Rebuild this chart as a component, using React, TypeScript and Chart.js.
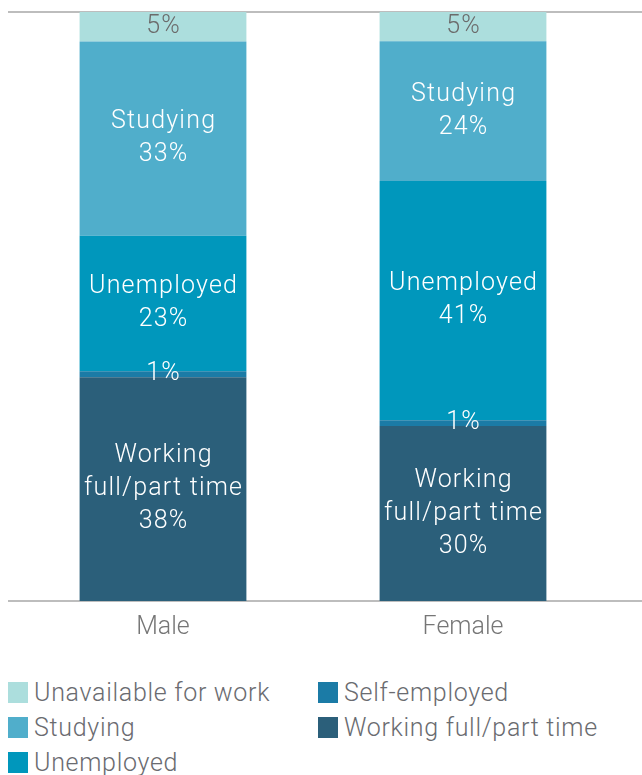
import React, { useEffect, useRef } from "react";
import { Chart, registerables } from "chart.js";

Chart.register(...registerables);

const categories = ["Male", "Female"];
const seriesNames = ["Working full/part time", "Self-employed", "Unemployed", "Studying", "Unavailable for work"];
const working = [38, 30];
const selfEmployed = [1, 1];
const unemployed = [23, 41];
const studying = [33, 24];
const unavailable = [5, 5];
const seriesValues = [working, selfEmployed, unemployed, studying, unavailable];
const seriesColors = ["#2b5f7a", "#1b7ba6", "#0097bc", "#50aecb", "#acdedd"];
const segmentTitles = ["Working\nfull/part time", "", "Unemployed", "Studying", ""];
const labelColors = ["#ffffff", "#ffffff", "#ffffff", "#ffffff", "#6b6b6b"];
const legendOrder = [4, 3, 2, 1, 0];

const FONT = "Roboto, 'Noto Sans', sans-serif";

const totals = categories.map((_, c) => seriesValues.reduce((s, arr) => s + arr[c], 0));

const linesPlugin = {
  id: "edgeLines",
  beforeDatasetsDraw(chart: any) {
    const { ctx } = chart;
    const y = chart.scales.y;
    ctx.save();
    ctx.strokeStyle = "#bdbdbd";
    ctx.lineWidth = 2;
    [0, 100].forEach((v) => {
      const py = Math.round(y.getPixelForValue(v));
      ctx.beginPath();
      ctx.moveTo(0, py);
      ctx.lineTo(chart.width, py);
      ctx.stroke();
    });
    ctx.restore();
  },
};

const labelPlugin = {
  id: "segLabels",
  afterDatasetsDraw(chart: any) {
    const { ctx } = chart;
    ctx.save();
    ctx.font = `300 25px ${FONT}`;
    (ctx as any).letterSpacing = "1.2px";
    ctx.textAlign = "center";
    ctx.textBaseline = "middle";
    const lh = 33;
    chart.data.datasets.forEach((ds: any, i: number) => {
      const meta = chart.getDatasetMeta(i);
      meta.data.forEach((el: any, c: number) => {
        const title = segmentTitles[i];
        const lines = (title ? title.split("\n") : []).concat([`${seriesValues[i][c]}%`]);
        const cy = (el.y + el.base) / 2;
        const start = cy - ((lines.length - 1) * lh) / 2;
        ctx.fillStyle = labelColors[i];
        lines.forEach((t: string, k: number) => ctx.fillText(t, el.x + 0.6, start + k * lh));
      });
    });
    ctx.restore();
  },
};

function ChartView() {
  const ref = useRef<HTMLCanvasElement | null>(null);
  useEffect(() => {
    if (!ref.current) return;
    const chart = new Chart(ref.current, {
      type: "bar",
      data: {
        labels: categories,
        datasets: seriesNames.map((name, i) => ({
          label: name,
          data: seriesValues[i].map((v, c) => (v / totals[c]) * 100),
          backgroundColor: seriesColors[i],
          borderWidth: 0,
          categoryPercentage: 1,
          barPercentage: 0.556,
        })),
      },
      options: {
        animation: false,
        responsive: true,
        maintainAspectRatio: false,
        layout: { padding: { top: 4, left: 5, right: 29, bottom: 0 } },
        plugins: { legend: { display: false }, tooltip: { enabled: false } },
        scales: {
          x: {
            stacked: true,
            grid: { display: false, drawTicks: false },
            border: { display: false },
            ticks: { color: "#767676", font: { family: FONT, size: 25, weight: "300" }, padding: 12 },
          },
          y: { stacked: true, display: false, min: 0, max: 100 },
        },
      },
      plugins: [linesPlugin, labelPlugin],
    });
    return () => chart.destroy();
  }, []);
  return (
    <div style={{ position: "absolute", left: 8, top: 8, width: 634, height: 647 }}>
      <canvas ref={ref} />
    </div>
  );
}

export default function App() {
  return (
    <div style={{ position: "absolute", left: 0, top: 0, width: 642, height: 775, overflow: "hidden", background: "#fff" }}>
      <ChartView />
      <div
        style={{
          position: "absolute",
          left: 8,
          top: 675,
          display: "grid",
          gridTemplateColumns: "310px 310px",
          gridTemplateRows: "35px 35px 35px",
          gridAutoFlow: "column",
          fontFamily: FONT,
          fontWeight: 300,
          fontSize: 25,
          color: "#6a6b70",
        }}
      >
        {legendOrder.map((i) => (
          <div key={i} style={{ display: "flex", alignItems: "center", height: 35 }}>
            <span style={{ display: "inline-block", width: 20, height: 21, background: seriesColors[i], marginRight: 6, flex: "none" }} />
            <span style={{ letterSpacing: 0.7, whiteSpace: "nowrap" }}>{seriesNames[i]}</span>
          </div>
        ))}
      </div>
    </div>
  );
}
